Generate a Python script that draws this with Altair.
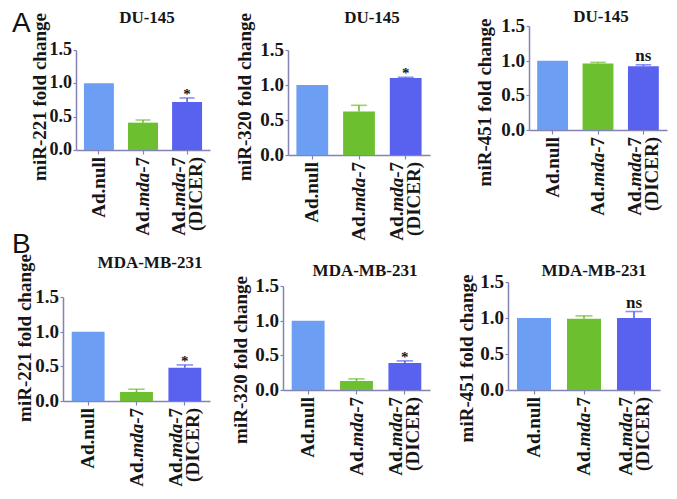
import altair as alt
import pandas as pd

# ---------------- data ----------------
CATS = ["Ad.null", "Ad.mda-7", "Ad.mda-7 (DICER)"]
CELL_LINES = ["DU-145", "DU-145", "DU-145", "MDA-MB-231", "MDA-MB-231", "MDA-MB-231"]
MIRNAS = ["miR-221", "miR-320", "miR-451", "miR-221", "miR-320", "miR-451"]
MEANS = [
    [1.0, 0.41, 0.72],
    [1.0, 0.62, 1.10],
    [1.0, 0.96, 0.92],
    [1.0, 0.13, 0.48],
    [1.0, 0.13, 0.39],
    [1.0, 0.99, 1.00],
]
ERRS = [
    [0.0, 0.04, 0.06],
    [0.0, 0.09, 0.01],
    [0.0, 0.015, 0.02],
    [0.0, 0.04, 0.04],
    [0.0, 0.03, 0.03],
    [0.0, 0.04, 0.09],
]
SIG = ["*", "*", "ns", "*", "*", "ns"]
Y_TICKS = [0.0, 0.5, 1.0, 1.5]
LABEL_LINE1 = [["Ad.null"], ["Ad.", "mda", "-7"], ["Ad.", "mda", "-7"]]
LABEL_LINE2 = [[], [], ["(DICER)"]]
ITALIC_SEGMENTS = ["mda"]
PANEL_LETTERS = ["A", None, None, "B", None, None]

# ---------------- style ----------------
SERIF = "Liberation Serif"
SANS = "Liberation Sans"
AXIS_COLOR = "#8282b4"
TEXT_COLOR = "#161616"
BLUE = "#6c9ef3"
GREEN = "#6cbf2e"
PANEL_COLORS = [
    [BLUE, GREEN, "#5862ef"],
    [BLUE, GREEN, "#6567dc"],
    [BLUE, GREEN, "#6567dc"],
    [BLUE, GREEN, "#6567dc"],
    [BLUE, GREEN, "#6567dc"],
    [BLUE, GREEN, "#6567dc"],
]

# approximate glyph advance widths (em) for Times-metric bold fonts
W_BOLD = {"A": 0.722, "d": 0.556, ".": 0.25, "-": 0.333, "7": 0.5, "n": 0.556,
          "u": 0.556, "l": 0.278, "(": 0.333, ")": 0.333, "D": 0.722, "I": 0.389,
          "C": 0.722, "E": 0.667, "R": 0.722}
W_BOLD_ITALIC = {"m": 0.778, "d": 0.5, "a": 0.5}


def text_width(s, size, italic):
    table = W_BOLD_ITALIC if italic else W_BOLD
    return sum(table.get(ch, 0.5) for ch in s) * size


# grid of cells (pixels): column widths / row heights
COL_W = [212, 233, 216]
ROW_H = [224, 254]

# per-panel geometry inside its cell (pixels)
#   plot = (left, right, top(1.5), bottom(0.0))
LAYOUT = [
    dict(plot=(68, 202, 39, 139), title=(139, 12), ytitle=(31.5, 86), letter=(4, 21), tick_fs=18),
    dict(plot=(68, 210, 39, 144), title=(152, 12), ytitle=(25, 86), tick_fs=19),
    dict(plot=(76, 214, 15, 119), title=(148, 11), ytitle=(31.5, 91.5), tick_fs=19),
    dict(plot=(55, 202, 62, 166), title=(142, 33), ytitle=(17, 103), letter=(4, 18), tick_fs=19),
    dict(plot=(63, 210, 51, 155), title=(145, 41), ytitle=(20.5, 125), tick_fs=19),
    dict(plot=(55, 207, 47, 155), title=(141, 41), ytitle=(13.5, 123.5), tick_fs=19),
]

XLAB_FS = 19
YTITLE_FS = 19
TITLE_FS = 17
LINE_H = 17
P_INNER, P_OUTER = 0.32, 0.18


def panel(i):
    L = LAYOUT[i]
    W = COL_W[i % 3]
    H = ROW_H[i // 3]
    xl, xr, yt, yb = L["plot"]

    df = pd.DataFrame({"cat": CATS, "mean": MEANS[i], "err": ERRS[i],
                       "sig": ["", "", SIG[i]]})
    df["top"] = df["mean"] + df["err"]

    xscale = alt.Scale(domain=CATS, range=[xl, xr], paddingInner=P_INNER, paddingOuter=P_OUTER)
    xaxis = alt.Axis(title=None, labels=False, domainColor=AXIS_COLOR, domainWidth=1.5,
                     tickColor=AXIS_COLOR, tickSize=4, tickWidth=1.2, offset=-(H - yb))
    yaxis = alt.Axis(title=None, values=Y_TICKS, labels=False, grid=False,
                     tickSize=3, tickWidth=1.2,
                     tickColor=AXIS_COLOR, domainColor=AXIS_COLOR, domainWidth=1.5,
                     offset=-xl)
    yscale = alt.Scale(domain=[0, 1.5], range=[yb, yt], nice=False)

    def X():
        return alt.X("cat:N", scale=xscale, axis=xaxis)

    def Y(field):
        return alt.Y(field + ":Q", scale=yscale, axis=yaxis)

    color = alt.Color("cat:N", scale=alt.Scale(domain=CATS, range=PANEL_COLORS[i]), legend=None)

    step = (xr - xl) / (3 - P_INNER + 2 * P_OUTER)
    bar_w = step * (1 - P_INNER)

    base = alt.Chart(df)
    bars = base.mark_bar().encode(x=X(), y=Y("mean"), color=color)
    errbase = base.transform_filter("datum.err > 0")
    rule = errbase.mark_rule(strokeWidth=1.6).encode(x=X(), y=Y("mean"), y2="top:Q", color=color)
    cap = errbase.mark_tick(thickness=1.6, size=bar_w * 0.5).encode(x=X(), y=Y("top"), color=color)
    is_star = SIG[i] == "*"
    sig = base.transform_filter("datum.sig != ''").mark_text(
        font=SERIF, fontWeight="bold", fontSize=15 if is_star else 17, color=TEXT_COLOR,
        baseline="alphabetic", dy=(1 if is_star else -4)).encode(x=X(), y=Y("top"), text="sig:N")

    # y tick labels (drawn on the y scale)
    ticklab = alt.Chart(pd.DataFrame({"v": Y_TICKS})).mark_text(
        font=SERIF, fontWeight="bold", fontSize=L["tick_fs"], color=TEXT_COLOR,
        align="right", baseline="middle").encode(
        x=alt.value(xl - 4), y=Y("v"), text=alt.Text("v:Q", format=".1f"))

    tx, ty = L["title"]
    title = alt.Chart(pd.DataFrame({"t": [CELL_LINES[i]]})).mark_text(
        font=SERIF, fontWeight="bold", fontSize=TITLE_FS, color=TEXT_COLOR,
        align="center", baseline="alphabetic").encode(x=alt.value(tx), y=alt.value(ty), text="t:N")

    yx, yy = L["ytitle"]
    ytitle = alt.Chart(pd.DataFrame({"t": [MIRNAS[i] + " fold change"]})).mark_text(
        font=SERIF, fontWeight="bold", fontSize=YTITLE_FS, color=TEXT_COLOR, angle=270,
        align="center", baseline="middle").encode(x=alt.value(yx), y=alt.value(yy), text="t:N")

    layers = [bars, rule, cap, sig, ticklab, title, ytitle]

    # x tick labels with mixed upright / italic segments
    for c, line1, line2 in zip(CATS, LABEL_LINE1, LABEL_LINE2):
        lines = [line1] + ([line2] if line2 else [])
        n = len(lines)
        for li, segs in enumerate(lines):
            dy = (li - (n - 1) / 2) * LINE_H
            off = 0.0
            for seg in reversed(segs):
                italic = seg in ITALIC_SEGMENTS
                layers.append(
                    alt.Chart(pd.DataFrame({"cat": [c], "t": [seg]})).mark_text(
                        font=SERIF, fontWeight="bold", fontStyle="italic" if italic else "normal",
                        fontSize=XLAB_FS, color=TEXT_COLOR, angle=270, align="right",
                        baseline="middle", dx=-off, dy=dy
                    ).encode(x=X(), y=alt.value(yb + 7), text="t:N")
                )
                off += text_width(seg, XLAB_FS, italic)

    if PANEL_LETTERS[i]:
        lx, ly = L["letter"]
        layers.append(
            alt.Chart(pd.DataFrame({"t": [PANEL_LETTERS[i]]})).mark_text(
                font=SANS, fontSize=28, color="#111111", align="left", baseline="alphabetic"
            ).encode(x=alt.value(lx), y=alt.value(ly), text="t:N")
        )

    return alt.layer(*layers).properties(width=W, height=H)


panels = [panel(i) for i in range(6)]

chart = alt.concat(
    *panels, columns=3, spacing=0, bounds="flush", align="each"
).properties(padding=0, background="white").configure_view(stroke=None)

chart.save("out.html", embed_options={"renderer": "svg", "actions": False})
